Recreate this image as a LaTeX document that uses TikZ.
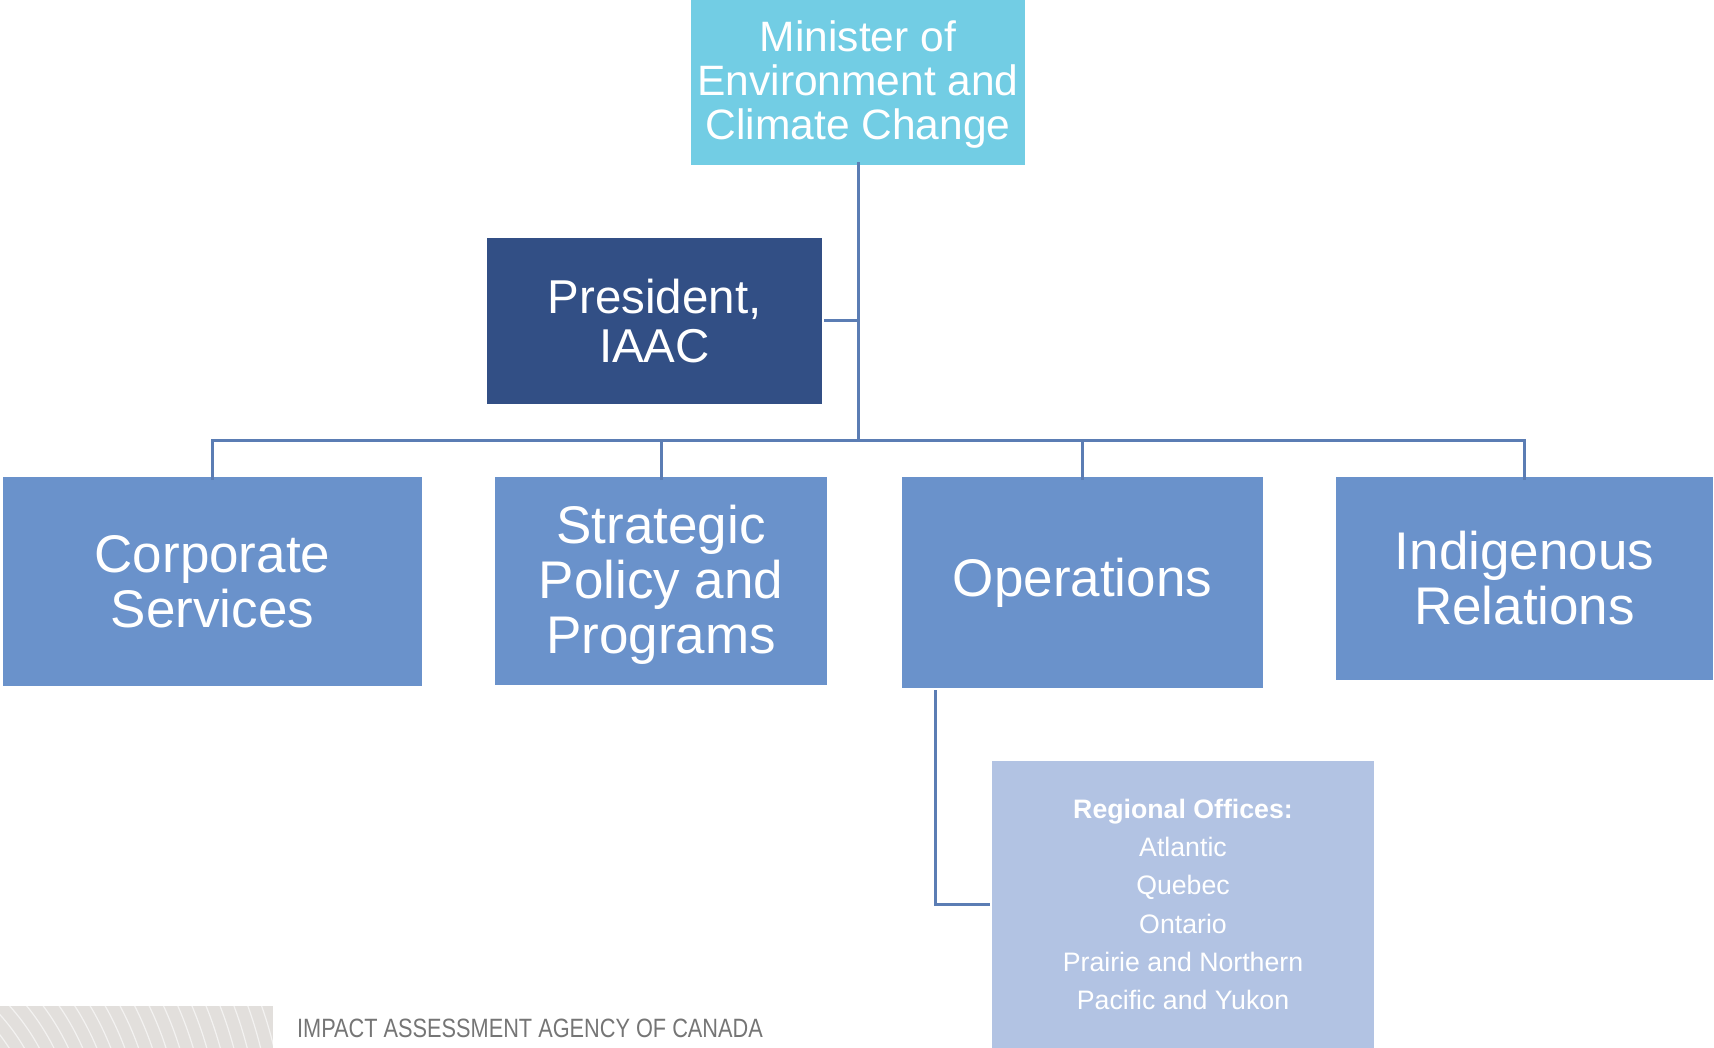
\documentclass[tikz,border=0pt]{standalone}
\usepackage{fontspec}
\setmainfont{Liberation Sans}
\newfontfamily\narrowfont[FakeStretch=0.82]{Liberation Sans}
\usepackage{tikz}
\usetikzlibrary{calc,positioning}
\definecolor{MinisterBlue}{HTML}{72CDE4}
\definecolor{PresidentBlue}{HTML}{324F85}
\definecolor{BranchBlue}{HTML}{6A92CB}
\definecolor{RegionBlue}{HTML}{B2C3E3}
\definecolor{LinkBlue}{HTML}{5B7DB4}
\definecolor{FooterGrey}{HTML}{E2DFDC}
\definecolor{FooterText}{HTML}{757575}

\tikzset{
    orgbox/.style={inner sep=0pt, align=center, text=white},
    branch/.style={orgbox, fill=BranchBlue, font=\fontsize{53}{55}\selectfont},
    link/.style={draw=LinkBlue, line width=3pt}
}

\begin{document}
\begin{tikzpicture}[x=1pt,y=-1pt]
    \useasboundingbox (0,0) rectangle (1714,1048);

    % top of the chart
    \node[orgbox, fill=MinisterBlue, minimum width=334pt, minimum height=165pt,
        font=\fontsize{42.5}{44}\selectfont] (minister) at (858,82.5)
        {\rule{0pt}{34pt}Minister of\\Environment and\\Climate Change};
    \node[orgbox, fill=PresidentBlue, minimum width=335pt, minimum height=166pt,
        font=\fontsize{47.5}{49}\selectfont] (president) at (654.5,321)
        {President,\\IAAC};

    % branches
    \node[branch, minimum width=419pt, minimum height=209pt] (corporate) at (212.5,581.5)
        {Corporate\\Services};
    \node[branch, minimum width=332pt, minimum height=208pt] (policy) at (661,581)
        {\rule{0pt}{45pt}Strategic\\Policy and\\Programs};
    \node[branch, minimum width=361pt, minimum height=211pt] (operations) at (1082.5,582.5)
        {Operations};
    \node[branch, minimum width=377pt, minimum height=203pt] (indigenous) at (1524.5,578.5)
        {Indigenous\\Relations};

    \node[orgbox, fill=RegionBlue, minimum width=382pt, minimum height=287pt,
        font=\fontsize{26.7}{38.3}\selectfont] (regions) at (1183,904.5)
        {\textbf{Regional Offices:}\\Atlantic\\Quebec\\Ontario\\Prairie and Northern\\Pacific and Yukon};

    % connectors
    \coordinate (bus) at (858,441);
    \draw[link] ([yshift=3pt]minister.south) -- (bus);
    \draw[link] ([xshift=2pt]president.east) -- (president.east -| bus);
    \draw[link] ([yshift=-3pt]corporate.north) -- (corporate.north |- bus)
        -- (indigenous.north |- bus) -- ([yshift=-3pt]indigenous.north);
    \foreach \n in {policy,operations}
        \draw[link] ([yshift=-3pt]\n.north) -- (\n.north |- bus);
    \draw[link] ($(operations.south west)+(34,2)$) |- ([xshift=-2pt]regions.west);

    % footer
    \fill[FooterGrey] (0,1006) rectangle (273,1048);
    \begin{scope}
        \clip (0,1006) rectangle (273,1048);
        \foreach \r in {150,163,...,480}
            \draw[white, opacity=0.6, line width=1.2pt] (-150,1150) circle (\r);
    \end{scope}
    \node[anchor=west, inner sep=0pt, text=FooterText,
        font=\narrowfont\fontsize{26.5}{28}\selectfont] (agency) at (297,1028)
        {IMPACT ASSESSMENT AGENCY OF CANADA};
\end{tikzpicture}
\end{document}
